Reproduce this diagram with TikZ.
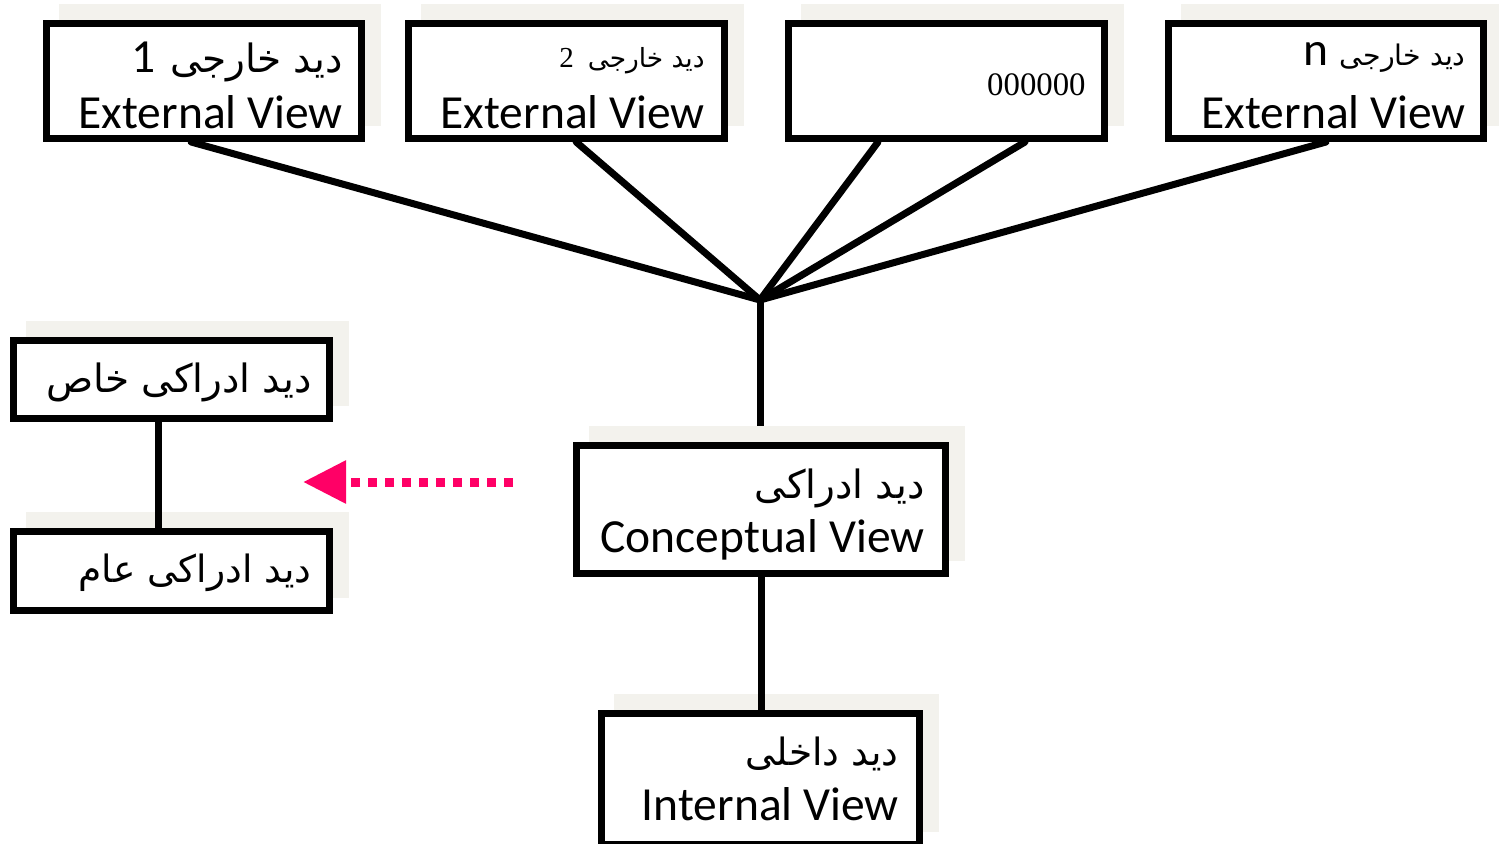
\documentclass[tikz,border=0pt]{standalone}
\usepackage{fontspec}
\setmainfont{Carlito}
\newfontfamily\fa[Script=Arabic]{DejaVu Sans}
\newfontfamily\tms{Liberation Serif}
\TeXXeTstate=1
\usetikzlibrary{calc,arrows.meta}

\definecolor{panelgray}{RGB}{243,242,237}
\definecolor{hotpink}{RGB}{255,0,102}

\pgfdeclarelayer{under}
\pgfdeclarelayer{panels}
\pgfdeclarelayer{wires}
\pgfsetlayers{under,panels,wires,main}

\newcommand{\en}{\fontsize{23.75pt}{28pt}\selectfont}
\newcommand{\fabig}{\fontsize{19.5pt}{22pt}\fa}

\tikzset{
  viewbox/.style={draw=black, line width=3.5pt, fill=white, rectangle, inner sep=0pt},
  txt/.style={inner sep=0pt, anchor=base east},
  wire/.style={draw=black, line width=3.5pt, line cap=round},
}

\begin{document}
\begin{tikzpicture}[x=0.5pt, y=-0.5pt]
\useasboundingbox (0,0) rectangle (1499,843);

% boxes (sizes measured along the border centre line)
\node[viewbox, minimum width=157.5pt, minimum height=57.5pt] (ext1) at (204,81) {};
\node[viewbox, minimum width=158pt, minimum height=57.5pt] (ext2) at (566.5,81) {};
\node[viewbox, minimum width=158pt, minimum height=57.5pt] (ext3) at (946.5,81) {};
\node[viewbox, minimum width=157.5pt, minimum height=57.5pt] (extn) at (1326,81) {};
\node[viewbox, minimum width=158pt, minimum height=39pt] (special) at (171.5,379.5) {};
\node[viewbox, minimum width=158pt, minimum height=39.5pt] (general) at (171.5,571) {};
\node[viewbox, minimum width=184.5pt, minimum height=64pt] (concept) at (761,509.5) {};
\node[viewbox, minimum width=159pt, minimum height=65.5pt] (internal) at (760.5,779) {};

% light offset panels behind every box
\begin{pgfonlayer}{panels}
\foreach \b in {ext1,ext2,ext3,extn,special,general,concept,internal}
  \fill[panelgray] ($(\b.south west)+(16,-16)$) rectangle ($(\b.north east)+(16,-16)$);
\end{pgfonlayer}

% external views meeting at the conceptual level
\coordinate (hub) at (760,300);
\begin{pgfonlayer}{under}
\draw[wire] ($(ext1.south west)!0.46!(ext1.south east)$) -- (hub);
\draw[wire] ($(ext2.south west)!0.53!(ext2.south east)$) -- (hub);
\draw[wire] ($(ext3.south west)!0.288!(ext3.south east)$) -- (hub);
\draw[wire] ($(ext3.south west)!0.743!(ext3.south east)$) -- (hub);
\draw[wire] (extn.south) -- (hub);
\draw[wire] (hub) -- (hub |- concept.north);
\end{pgfonlayer}

\begin{pgfonlayer}{wires}
\draw[wire, line cap=butt] (concept.south) -- (concept.south |- internal.north);
\coordinate (link) at ($(special.south west)!0.46!(special.south east)$);
\draw[wire, line cap=butt] (link) -- (link |- general.north);
\end{pgfonlayer}

% dotted arrow
\coordinate (arrowstart) at (513,482);
\coordinate (arrowend) at (303,482);
\draw[draw=hotpink, line width=4.5pt, dash pattern=on 4.5pt off 4pt,
      -{Triangle[length=21.5pt, width=20.5pt, fill=hotpink]}]
  (arrowstart) -- (arrowend);

% labels
\node[txt] at ($(ext1.north east)+(-22,52)$)
  {{\en 1}\hspace{7pt}{\fabig\beginR دید خارجی\endR}};
\node[txt] at ($(ext1.north east)+(-22,108)$) {\en External View};

\node[txt] at ($(ext2.north east)+(-23,47)$)
  {{\tms\fontsize{14.5pt}{16pt}\selectfont 2}\hspace{7pt}{\fontsize{13.2pt}{16pt}\fa\beginR دید خارجی\endR}};
\node[txt] at ($(ext2.north east)+(-23,108)$) {\en External View};

\node[txt] at ($(ext3.north east)+(-22,75)$) {\tms\fontsize{16.4pt}{18pt}\selectfont 000000};

\node[txt] at ($(extn.north east)+(-21,45)$)
  {{\en n}\hspace{6pt}{\fontsize{14.2pt}{16pt}\fa\beginR دید خارجی\endR}};
\node[txt] at ($(extn.north east)+(-21,108)$) {\en External View};

\node[txt] at ($(special.north east)+(-21,55)$) {\fabig\beginR دید ادراکی خاص\endR};
\node[txt] at ($(general.north east)+(-21,54)$) {\fontsize{18.8pt}{22pt}\fa\beginR دید ادراکی عام\endR};

\node[txt] at ($(concept.north east)+(-24,56)$) {\fabig\beginR دید ادراکی\endR};
\node[txt] at ($(concept.north east)+(-24,110)$) {\en Conceptual View};

\node[txt] at ($(internal.north east)+(-24,55)$) {\fontsize{18.8pt}{22pt}\fa\beginR دید داخلی\endR};
\node[txt] at ($(internal.north east)+(-24,110)$) {\en Internal View};
\end{tikzpicture}
\end{document}
